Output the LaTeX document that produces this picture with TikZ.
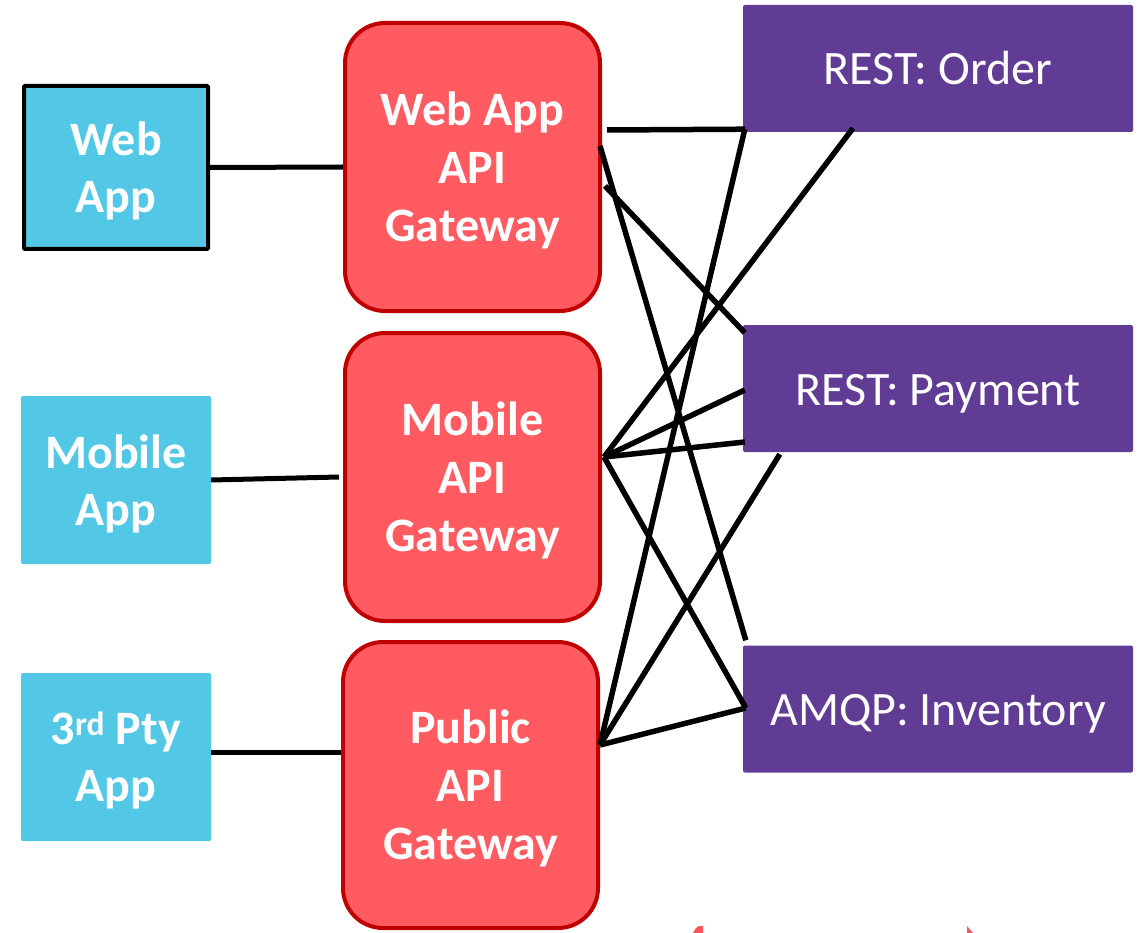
\documentclass[tikz,border=0pt]{standalone}
\usepackage{fontspec}
\setmainfont{Carlito}
\usetikzlibrary{calc}
\definecolor{clientblue}{HTML}{53C8E6}
\definecolor{gwred}{HTML}{FF5B61}
\definecolor{gwborder}{HTML}{C00000}
\definecolor{svcpurple}{HTML}{603C94}
\definecolor{markred}{HTML}{F4575C}
\begin{document}
\begin{tikzpicture}[x=1pt,y=-1pt,
  client/.style={fill=clientblue, text=white, font=\bfseries\fontsize{48}{57}\selectfont,
    align=center, inner sep=0pt, text depth=0pt, minimum width=190pt, minimum height=168pt,
    rounded corners=2pt},
  gateway/.style={fill=gwred, draw=gwborder, line width=4pt, rounded corners=40pt, text=white,
    font=\bfseries\fontsize{48}{58}\selectfont, align=center, inner sep=0pt, text depth=0pt,
    minimum width=255pt, minimum height=288pt},
  service/.style={fill=svcpurple, text=white, font=\fontsize{48}{56}\selectfont,
    inner sep=0pt, text height=33pt, text depth=0pt,
    minimum width=390pt, minimum height=127pt, rounded corners=2pt},
  link/.style={line width=5.5pt},
  feed/.style={line width=5pt}]
\useasboundingbox (0,0) rectangle (1145,933);

% client applications
\node[client, draw=black, line width=4pt, rounded corners=1pt, minimum width=184pt, minimum height=163pt]
  (webapp) at (116,167.5) {Web\\App};
\node[client] (mobileapp) at (116,480) {Mobile\\App};
\node[client] (ptyapp) at (116,757) {3\textsuperscript{rd} Pty\\App};

% API gateways
\node[gateway] (wg) at (472.5,167) {Web App\\API\\Gateway};
\node[gateway] (mg) at (472.5,477) {Mobile\\API\\Gateway};
\node[gateway, minimum height=286pt] (pg) at (470.5,785) {Public\\API\\Gateway};

% back-end services
\node[service] (order) at (938,68.5) {REST: Order};
\node[service] (payment) at (938,388.5) {REST: Payment};
\node[service] (inventory) at (938,709) {AMQP: Inventory};

% clients to gateways
\draw[feed] (webapp.east) -- (wg.west);
\draw[feed] (mobileapp.east) -- ([xshift=-4pt]mg.west);
\draw[feed] ([yshift=5pt]ptyapp.east) -- ([yshift=33pt]pg.west);

% web app gateway fan-out
\draw[link] ([xshift=5pt,yshift=37pt]wg.east) -- ([xshift=2pt,yshift=3pt]order.south west);
\draw[link] ([xshift=-2pt,yshift=21pt]wg.east) -- ([xshift=3pt,yshift=5pt]inventory.north west);
\draw[link] ([xshift=3pt,yshift=-19pt]wg.east) -- ([xshift=2pt,yshift=-8pt]payment.north west);

% mobile gateway fan-out
\coordinate (mhub) at ([xshift=2pt,yshift=20pt]mg.east);
\draw[link] (mhub) -- ([xshift=-85pt,yshift=4pt]order.south);
\draw[link] (mhub) -- ([xshift=2pt,yshift=-1.5pt]payment.west);
\draw[link] (mhub) -- ([xshift=2pt,yshift=-53.5pt]payment.west);
\draw[link] (mhub) -- ([xshift=3pt,yshift=1pt]inventory.west);

% public gateway fan-out
\coordinate (phub) at ([yshift=40pt]pg.east);
\draw[link] (phub) -- ([xshift=2pt,yshift=3pt]order.south west);
\draw[link] (phub) -- ([xshift=37pt,yshift=-2pt]payment.south west);
\draw[link] (phub) -- ([xshift=3pt,yshift=1pt]inventory.west);

% red tips showing at the lower edge
\fill[markred] (693,933) -- (696,928) -- (699,926) -- (703,926) -- (703,933) -- cycle;
\fill[markred] (967,926) -- (973,933) -- (967,933) -- cycle;
\end{tikzpicture}
\end{document}
